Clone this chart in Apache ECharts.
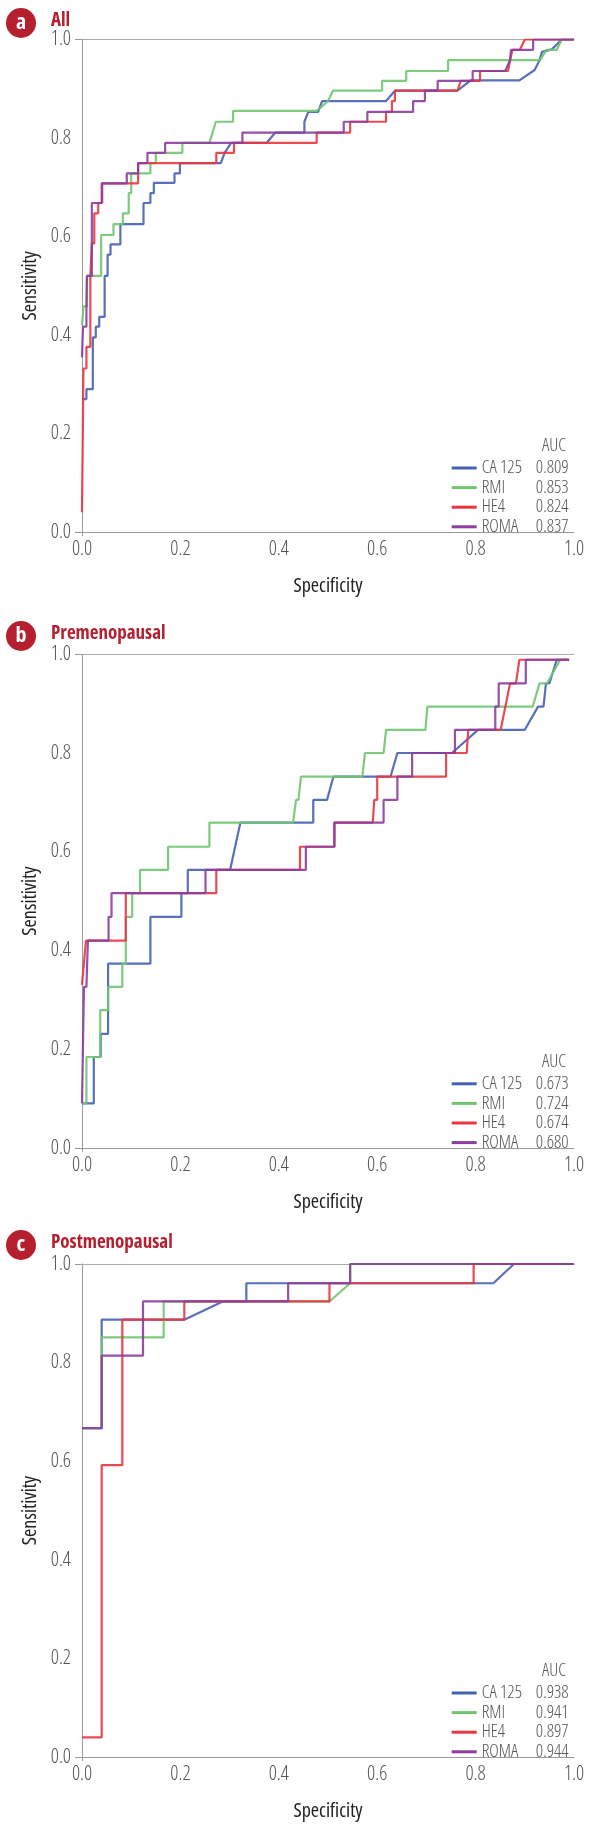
<!DOCTYPE html>
<html><head><meta charset="utf-8">
<script src="https://cdn.jsdelivr.net/npm/echarts@6/dist/echarts.min.js"></script>
<style>html,body{margin:0;padding:0;background:#fff}#c{width:590px;height:1833px}</style>
</head><body><div id="c"></div>
<script>
// ---------- DATA ----------
const panelLetters = ['a', 'b', 'c'];
const panelTitles = ['All', 'Premenopausal', 'Postmenopausal'];
const seriesNames = ['CA 125', 'RMI', 'HE4', 'ROMA'];
const aucAll = ['0.809', '0.853', '0.824', '0.837'];
const aucPre = ['0.673', '0.724', '0.674', '0.680'];
const aucPost = ['0.938', '0.941', '0.897', '0.944'];
const xAxisName = 'Specificity';
const yAxisName = 'Sensitivity';
const legendHeader = 'AUC';

const allCA125 = [[0,0.27],[0.009,0.27],[0.009,0.29],[0.022,0.29],[0.022,0.395],[0.028,0.395],[0.028,0.417],[0.035,0.417],[0.035,0.437],[0.046,0.437],[0.046,0.52],[0.052,0.52],[0.052,0.563],[0.058,0.563],[0.058,0.584],[0.078,0.584],[0.078,0.625],[0.125,0.625],[0.125,0.668],[0.139,0.668],[0.139,0.688],[0.146,0.688],[0.146,0.709],[0.188,0.709],[0.188,0.728],[0.199,0.728],[0.199,0.749],[0.282,0.749],[0.29,0.77],[0.303,0.79],[0.375,0.79],[0.393,0.811],[0.452,0.811],[0.452,0.833],[0.46,0.853],[0.48,0.853],[0.488,0.875],[0.618,0.875],[0.636,0.896],[0.763,0.896],[0.79,0.917],[0.889,0.917],[0.92,0.938],[0.93,0.958],[0.935,0.975],[0.955,0.98],[0.975,1.0],[1,1]];
const allRMI = [[0,0.42],[0.003,0.42],[0.003,0.458],[0.01,0.458],[0.01,0.52],[0.039,0.52],[0.039,0.603],[0.064,0.603],[0.064,0.625],[0.083,0.625],[0.083,0.647],[0.095,0.647],[0.095,0.688],[0.1,0.688],[0.1,0.728],[0.139,0.728],[0.139,0.749],[0.15,0.749],[0.15,0.77],[0.204,0.77],[0.204,0.79],[0.259,0.79],[0.272,0.833],[0.307,0.833],[0.307,0.855],[0.477,0.855],[0.5,0.875],[0.51,0.896],[0.61,0.896],[0.61,0.916],[0.659,0.916],[0.659,0.936],[0.744,0.936],[0.744,0.958],[0.931,0.958],[0.944,0.979],[0.965,0.979],[0.975,1.0],[1,1]];
const allHE4 = [[0,0.04],[0.003,0.04],[0.003,0.332],[0.009,0.332],[0.009,0.376],[0.017,0.376],[0.017,0.52],[0.02,0.52],[0.02,0.586],[0.025,0.586],[0.025,0.647],[0.033,0.647],[0.033,0.668],[0.04,0.668],[0.04,0.708],[0.114,0.708],[0.114,0.749],[0.273,0.749],[0.273,0.77],[0.309,0.77],[0.309,0.79],[0.477,0.79],[0.477,0.811],[0.545,0.811],[0.545,0.833],[0.618,0.833],[0.618,0.853],[0.63,0.853],[0.63,0.875],[0.636,0.875],[0.636,0.896],[0.763,0.896],[0.77,0.916],[0.809,0.916],[0.809,0.936],[0.866,0.936],[0.87,0.958],[0.875,0.979],[0.89,0.979],[0.9,1.0],[1,1]];
const allROMA = [[0,0.355],[0.002,0.355],[0.002,0.417],[0.009,0.417],[0.009,0.458],[0.01,0.52],[0.02,0.52],[0.02,0.668],[0.041,0.668],[0.041,0.708],[0.091,0.708],[0.091,0.728],[0.114,0.728],[0.114,0.749],[0.133,0.749],[0.133,0.77],[0.169,0.77],[0.169,0.79],[0.326,0.79],[0.326,0.811],[0.532,0.811],[0.532,0.833],[0.58,0.833],[0.58,0.853],[0.673,0.853],[0.673,0.875],[0.697,0.875],[0.697,0.896],[0.723,0.896],[0.723,0.916],[0.794,0.916],[0.794,0.936],[0.86,0.936],[0.87,0.958],[0.872,0.979],[0.917,0.979],[0.917,1.0],[1,1]];

const preCA125 = [[0,0.09],[0.024,0.09],[0.024,0.184],[0.038,0.184],[0.038,0.231],[0.053,0.231],[0.053,0.373],[0.139,0.373],[0.139,0.468],[0.202,0.468],[0.202,0.516],[0.215,0.516],[0.215,0.563],[0.301,0.563],[0.322,0.659],[0.47,0.659],[0.47,0.705],[0.498,0.705],[0.511,0.752],[0.627,0.752],[0.641,0.8],[0.752,0.8],[0.805,0.847],[0.9,0.847],[0.927,0.894],[0.938,0.894],[0.943,0.941],[0.95,0.941],[0.965,0.989],[0.99,0.989]];
const preRMI = [[0,0.09],[0.009,0.09],[0.009,0.184],[0.037,0.184],[0.037,0.279],[0.053,0.279],[0.053,0.326],[0.082,0.326],[0.082,0.373],[0.089,0.373],[0.089,0.468],[0.102,0.468],[0.102,0.516],[0.118,0.516],[0.118,0.563],[0.175,0.563],[0.175,0.61],[0.259,0.61],[0.259,0.659],[0.429,0.659],[0.435,0.705],[0.44,0.705],[0.445,0.752],[0.57,0.752],[0.575,0.8],[0.613,0.8],[0.618,0.847],[0.698,0.847],[0.702,0.894],[0.916,0.894],[0.93,0.941],[0.945,0.941],[0.972,0.989],[0.99,0.989]];
const preHE4 = [[0,0.33],[0.002,0.33],[0.008,0.42],[0.089,0.42],[0.089,0.516],[0.273,0.516],[0.273,0.563],[0.443,0.563],[0.443,0.61],[0.513,0.61],[0.513,0.659],[0.591,0.659],[0.594,0.705],[0.6,0.705],[0.6,0.752],[0.74,0.752],[0.74,0.8],[0.782,0.8],[0.785,0.847],[0.851,0.847],[0.87,0.941],[0.882,0.941],[0.889,0.989],[0.99,0.989]];
const preROMA = [[0,0.09],[0.004,0.09],[0.004,0.326],[0.009,0.326],[0.012,0.42],[0.054,0.42],[0.054,0.468],[0.06,0.468],[0.06,0.516],[0.251,0.516],[0.251,0.563],[0.455,0.563],[0.455,0.61],[0.513,0.61],[0.513,0.659],[0.613,0.659],[0.613,0.705],[0.641,0.705],[0.641,0.752],[0.671,0.752],[0.671,0.8],[0.758,0.8],[0.758,0.847],[0.84,0.847],[0.84,0.894],[0.847,0.894],[0.847,0.941],[0.902,0.941],[0.902,0.989],[0.99,0.989]];

const postCA125 = [[0,0.667],[0.04,0.667],[0.04,0.887],[0.208,0.887],[0.286,0.924],[0.334,0.924],[0.334,0.961],[0.836,0.961],[0.878,1.0],[1,1]];
const postRMI = [[0,0.667],[0.04,0.667],[0.04,0.851],[0.166,0.851],[0.166,0.924],[0.503,0.924],[0.545,0.961],[0.545,1.0],[1,1]];
const postHE4 = [[0,0.04],[0.04,0.04],[0.04,0.592],[0.082,0.592],[0.082,0.887],[0.208,0.887],[0.208,0.924],[0.503,0.924],[0.503,0.961],[0.796,0.961],[0.796,1.0],[1,1]];
const postROMA = [[0,0.667],[0.04,0.667],[0.04,0.814],[0.124,0.814],[0.124,0.924],[0.419,0.924],[0.419,0.961],[0.545,0.961],[0.545,1.0],[1,1]];

// ---------- STYLE / LAYOUT ----------
const FAM = "'Open Sans','DejaVu Sans Condensed',sans-serif";
const COND = 'condensed';
const colors = ['#4660b2', '#70c470', '#ea3640', '#8c3d9e'];
const TITLE_RED = '#b51f2e';
const panelData = [
  [allCA125, allRMI, allHE4, allROMA],
  [preCA125, preRMI, preHE4, preROMA],
  [postCA125, postRMI, postHE4, postROMA]
];
const panelAuc = [aucAll, aucPre, aucPost];
const gridTops = [39.5, 654.3, 1264];
const gridHeights = [492.5, 493.5, 493];
const badgeY = [23, 636, 1245];
const gridLeft = 82, gridWidth = 492;

const txt = (size, weight, color) => ({ fontStyle: COND, fontWeight: weight, fontSize: size, fontFamily: FAM, color: color });

const grid = [], xAxis = [], yAxis = [], series = [], legend = [], graphic = [];
for (let i = 0; i < 3; i++) {
  const top = gridTops[i], h = gridHeights[i], bottom = top + h;
  grid.push({ left: gridLeft, width: gridWidth, top: top, height: h, containLabel: false });
  xAxis.push({
    gridIndex: i, type: 'value', min: 0, max: 1, interval: 0.2,
    name: xAxisName, nameLocation: 'middle', nameGap: 44,
    nameTextStyle: txt(20, 'normal', '#222'),
    axisLine: { show: true, lineStyle: { color: '#999', width: 1 } },
    axisTick: { show: true, customValues: [0], length: 4, lineStyle: { color: '#999' } },
    axisLabel: Object.assign(txt(20, 300, '#555'), { margin: 7, formatter: v => v.toFixed(1) }),
    splitLine: { show: true, lineStyle: { color: '#e6e6e6', width: 1 } }
  });
  xAxis.push({
    gridIndex: i, type: 'value', position: 'top', min: 0, max: 1, interval: 0.2,
    axisLine: { show: true, lineStyle: { color: '#aaa', width: 1 } },
    axisTick: { show: false }, axisLabel: { show: false }, splitLine: { show: false }
  });
  yAxis.push({
    gridIndex: i, type: 'value', min: 0, max: 1, interval: 0.2,
    name: yAxisName, nameLocation: 'middle', nameGap: 30,
    nameTextStyle: txt(20, 'normal', '#222'),
    axisLine: { show: true, lineStyle: { color: '#999', width: 1 } },
    axisTick: { show: true, customValues: [0, 1], length: 7, lineStyle: { color: '#999' } },
    axisLabel: Object.assign(txt(20, 300, '#555'), { margin: 11, formatter: v => v.toFixed(1) }),
    splitLine: { show: true, lineStyle: { color: '#e6e6e6', width: 1 } }
  });
  for (let j = 0; j < 4; j++) {
    series.push({
      type: 'line', name: seriesNames[j], xAxisIndex: 2 * i, yAxisIndex: i,
      data: panelData[i][j], showSymbol: false, symbol: 'none', animation: false,
      lineStyle: { width: 2.2, color: colors[j], opacity: 0.9 },
      itemStyle: { color: colors[j] }, z: 2 + j
    });
  }
  const auc = panelAuc[i];
  const lt = Object.assign(txt(18, 300, '#555'), { lineHeight: 19.6 });
  legend.push({
    orient: 'vertical', left: 446.7, top: bottom - 69 - 9.8,
    itemWidth: 25, itemHeight: 3, itemGap: 0, itemTextGap: 7, icon: 'rect',
    selectedMode: false, data: seriesNames,
    formatter: name => '{n|' + name + '}{v|' + auc[seriesNames.indexOf(name)] + '}',
    textStyle: Object.assign({}, lt, {
      rich: {
        n: Object.assign({ width: 52 }, lt),
        v: Object.assign({ width: 35, align: 'right' }, lt)
      }
    })
  });
  graphic.push(
    { type: 'circle', shape: { cx: 21, cy: badgeY[i], r: 15 }, style: { fill: TITLE_RED }, z: 10 },
    { type: 'text', x: 21, y: badgeY[i], z: 11,
      style: { text: panelLetters[i], fill: '#fff', font: COND + ' bold 22px ' + FAM, textAlign: 'center', textVerticalAlign: 'middle' } },
    { type: 'text', x: 51, y: badgeY[i] - 2, z: 11,
      style: { text: panelTitles[i], fill: TITLE_RED, font: COND + ' bold 19px ' + FAM, textAlign: 'left', textVerticalAlign: 'middle' } },
    { type: 'text', x: 566, y: bottom - 86, z: 11,
      style: { text: legendHeader, fill: '#555', font: COND + ' 300 18px ' + FAM, textAlign: 'right', textVerticalAlign: 'middle' } }
  );
}

const chart = echarts.init(document.getElementById('c'), null, { renderer: 'canvas' });
chart.setOption({
  backgroundColor: '#fff', animation: false,
  grid, xAxis, yAxis, series, legend, graphic
});
</script></body></html>
